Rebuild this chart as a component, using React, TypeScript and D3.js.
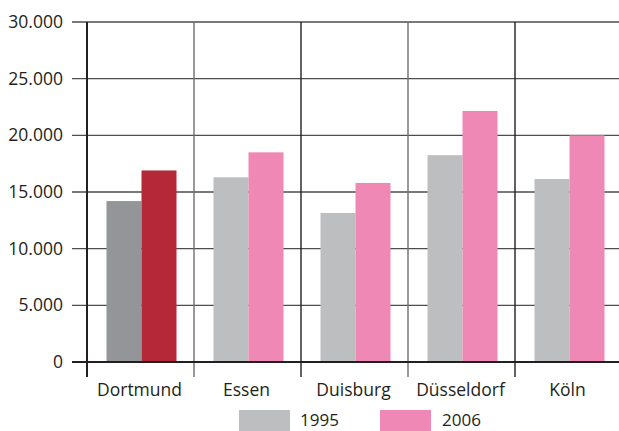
import React from "react";
import * as d3 from "d3";

const cities = ["Dortmund", "Essen", "Duisburg", "Düsseldorf", "Köln"];
const years = ["1995", "2006"];
const values1995 = [14200, 16300, 13150, 18250, 16150];
const values2006 = [16900, 18500, 15800, 22150, 20000];
const yTicks = [0, 5000, 10000, 15000, 20000, 25000, 30000];

const App = () => {
  const width = 619;
  const height = 431;
  const margin = { top: 22, right: -3, bottom: 69, left: 87 };
  const font = "'Open Sans', sans-serif";

  const xScale = d3
    .scaleBand()
    .domain(cities)
    .range([margin.left, width - margin.right])
    .paddingInner(0)
    .paddingOuter(0);

  const inner = d3
    .scaleBand()
    .domain(years)
    .range([0, 70]);

  const yScale = d3
    .scaleLinear()
    .domain([0, 30000])
    .range([height - margin.bottom, margin.top]);

  const fmt = (v) => d3.format(",")(v).replace(/,/g, ".");

  const fillFor = (city, year) => {
    if (city === "Dortmund") return year === "1995" ? "#939598" : "#b52837";
    return year === "1995" ? "#bcbec0" : "#f088b6";
  };

  const bottom = yScale(0);
  const offset = Math.round((xScale.bandwidth() - 70) / 2) + 0.5;

  return (
    <svg
      width={width}
      height={height}
      style={{ position: "absolute", left: 0, top: 0, display: "block" }}
    >
      <rect width={width} height={height} fill="#fff" />
      {/* horizontal gridlines + ticks */}
      {yTicks.map((t) => (
        <g key={t}>
          <line
            x1={72}
            x2={width}
            y1={yScale(t)}
            y2={yScale(t)}
            stroke={t === 0 ? "#231f20" : "#4d4d4d"}
            strokeWidth={t === 0 ? 2 : 1.4}
          />
          <text
            x={63}
            y={yScale(t)}
            dy="0.35em"
            textAnchor="end"
            fontFamily={font}
            fontSize={17.5}
            fill="#231f20"
          >
            {fmt(t)}
          </text>
        </g>
      ))}
      {/* vertical separators */}
      {cities.map((c, i) => (
        <line
          key={c}
          x1={xScale(c)}
          x2={xScale(c)}
          y1={margin.top}
          y2={bottom + 15}
          stroke={i % 2 === 1 ? "#6d6e71" : "#231f20"}
          strokeWidth={i === 0 ? 2 : 1.4}
        />
      ))}
      {cities.map((c, i) => (
        <g key={c} transform={`translate(${xScale(c) + offset},0)`}>
          <rect
            x={inner("1995")}
            y={yScale(values1995[i])}
            width={inner.bandwidth()}
            height={bottom - yScale(values1995[i])}
            fill={fillFor(c, "1995")}
          />
          <rect
            x={inner("2006")}
            y={yScale(values2006[i])}
            width={inner.bandwidth()}
            height={bottom - yScale(values2006[i])}
            fill={fillFor(c, "2006")}
          />
        </g>
      ))}
      {/* redraw bottom axis on top of bars */}
      <line x1={72} x2={width} y1={bottom} y2={bottom} stroke="#231f20" strokeWidth={2} />
      {cities.map((c) => (
        <text
          key={c}
          x={xScale(c) + xScale.bandwidth() / 2 - 1}
          y={396}
          textAnchor="middle"
          fontFamily={font}
          fontSize={17.5}
          fill="#231f20"
        >
          {c}
        </text>
      ))}
      {/* legend */}
      <rect x={239} y={410} width={51} height={21} fill="#bcbec0" />
      <text x={300} y={426} fontFamily={font} fontSize={17} fill="#231f20">
        {years[0]}
      </text>
      <rect x={380} y={410} width={51} height={21} fill="#f088b6" />
      <text x={442} y={426} fontFamily={font} fontSize={17} fill="#231f20">
        {years[1]}
      </text>
    </svg>
  );
};

export default App;
